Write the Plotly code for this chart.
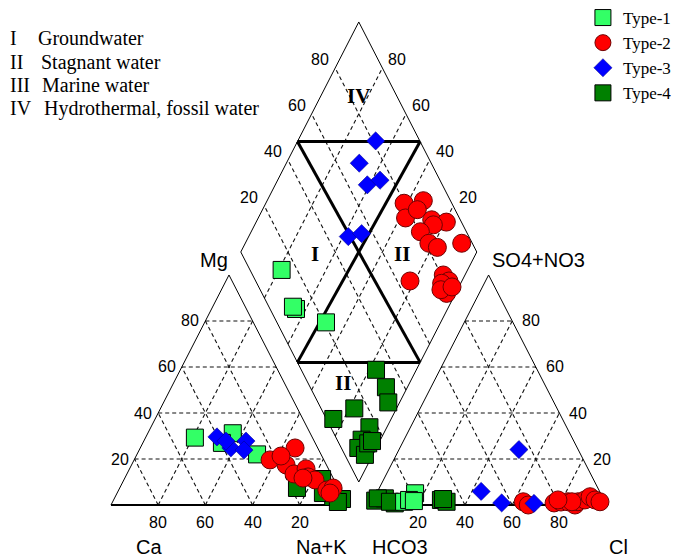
import numpy as np
import plotly.graph_objects as go

# ---------------- data (percent of meq) ----------------
TICKS = [20, 40, 60, 80]
TICK_LABELS = ["20", "40", "60", "80"]
BOUNDARY = 48  # subdivision lines of the diamond (percent)

TYPES = ["Type-1", "Type-2", "Type-3", "Type-4"]

# cation triangle: Na+K %, Mg % (Ca = remainder)
t1_na = [20.9, 36.0, 33.5, 50.9]
t1_mg = [29.3, 31.2, 27.0, 22.0]
t2_na = [57.6, 65.5, 65.6, 61.4, 70.8, 74.8, 77.4, 81.0, 75.5, 88.2, 90.4, 90.2]
t2_mg = [19.6, 17.4, 24.8, 21.3, 13.5, 15.7, 12.2, 10.9, 11.7, 6.5, 7.4, 5.2]
t3_na = [30.1, 38.4, 43.3, 44.4, 34.8]
t3_mg = [29.6, 24.8, 27.8, 23.9, 27.8]
t4_na = [75.1, 83.8, 92.4, 96.6, 87.2, 95.5]
t4_mg = [7.4, 11.3, 3.5, 2.6, 5.2, 1.3]

# anion triangle: Cl %, SO4 % (HCO3 = remainder)
t1_cl = [16.3, 13.5, 15.2, 17.5]
t1_so4 = [5.1, 1.4, 2.2, 1.7]
t2_cl = [64.0, 66.8, 77.3, 80.0, 82.9, 86.6, 87.2, 89.7, 91.2, 94.0, 96.5, 84.6, 78.3]
t2_so4 = [1.4, 0.0, 0.9, 1.3, 1.4, 0.0, 1.4, 2.2, 3.6, 2.2, 1.4, 1.4, 2.2]
t3_cl = [50.8, 43.9, 55.1, 68.9]
t3_so4 = [24.1, 5.9, 0.9, 0.7]
t4_cl = [1.0, 4.6, 9.9, 1.6, 7.5, 28.7, 31.5, 29.4]
t4_so4 = [1.9, 2.9, 0.7, 2.9, 1.4, 2.2, 1.4, 2.6]

# diamond: Ca+Mg %, SO4+Cl %
t1_camg = [78.8, 64.2, 66.0, 48.6]
t1_so4cl = [13.4, 11.0, 10.2, 20.8]
t2_camg = [41.4, 33.8, 37.6, 34.4, 26.1, 19.4, 24.3, 28.3, 22.2, 17.7, 8.3, 22.0, 9.2, 5.5, 8.1, 3.8, 7.0, 2.9]
t2_so4cl = [79.8, 88.5, 77.2, 84.0, 87.9, 93.6, 87.5, 80.5, 81.6, 84.3, 95.5, 65.4, 80.8, 81.9, 78.3, 78.2, 76.6, 81.9]
t3_camg = [67.0, 69.1, 61.0, 56.6, 57.8, 52.8]
t3_so4cl = [81.3, 69.5, 68.2, 74.6, 48.9, 55.2]
t4_camg = [17.1, 9.1, 4.8, 17.9, 24.5, 7.4, 8.0, 7.6, 3.3, 4.4, 3.3]
t4_so4cl = [31.7, 32.1, 29.8, 14.1, 2.9, 16.4, 10.4, 7.2, 8.5, 12.4, 14.5]

# ---------------- geometry ----------------
SIDE = 100.0
GAP = 10.0
H = SIDE * np.sqrt(3) / 2


def cat_xy(na, mg):
    na = np.asarray(na, float); mg = np.asarray(mg, float)
    return na + mg / 2, mg * H / 100


def an_xy(cl, so4):
    cl = np.asarray(cl, float); so4 = np.asarray(so4, float)
    return SIDE + GAP + cl + so4 / 2, so4 * H / 100


def dia_xy(camg, so4cl):
    n = 1 - np.asarray(camg, float) / 100
    h = 1 - np.asarray(so4cl, float) / 100
    return SIDE + GAP / 2 + (n - h) * SIDE / 2, GAP * H / SIDE + (2 - n - h) * H


def seg_trace(segs, width, dash=None, color="black"):
    xs, ys = [], []
    for (x0, y0), (x1, y1) in segs:
        xs += [float(x0), float(x1), None]
        ys += [float(y0), float(y1), None]
    return go.Scatter(x=xs, y=ys, mode="lines", hoverinfo="skip", showlegend=False,
                      line=dict(color=color, width=width, dash=dash))


def pt(f, a, b):
    x, y = f(a, b)
    return (float(x), float(y))


fig = go.Figure()

# grid (dashed)
grid = []
for k in TICKS:
    grid += [(pt(cat_xy, 0, k), pt(cat_xy, 100 - k, k)),
             (pt(cat_xy, k, 0), pt(cat_xy, k, 100 - k)),
             (pt(cat_xy, 100 - k, 0), pt(cat_xy, 0, 100 - k)),
             (pt(an_xy, 0, k), pt(an_xy, 100 - k, k)),
             (pt(an_xy, k, 0), pt(an_xy, k, 100 - k)),
             (pt(an_xy, 100 - k, 0), pt(an_xy, 0, 100 - k)),
             (pt(dia_xy, k, 0), pt(dia_xy, k, 100)),
             (pt(dia_xy, 0, k), pt(dia_xy, 100, k))]
fig.add_trace(seg_trace(grid, 1.1, dash="4px,3px", color="#111111"))

# outlines
outl = [(pt(cat_xy, 0, 0), pt(cat_xy, 0, 100)), (pt(cat_xy, 0, 100), pt(cat_xy, 100, 0)),
        (pt(an_xy, 0, 0), pt(an_xy, 0, 100)), (pt(an_xy, 0, 100), pt(an_xy, 100, 0)),
        (pt(dia_xy, 0, 0), pt(dia_xy, 100, 0)), (pt(dia_xy, 100, 0), pt(dia_xy, 100, 100)),
        (pt(dia_xy, 100, 100), pt(dia_xy, 0, 100)), (pt(dia_xy, 0, 100), pt(dia_xy, 0, 0))]
fig.add_trace(seg_trace(outl, 1))
bases = [(pt(cat_xy, 0, 0), pt(cat_xy, 100, 0)), (pt(an_xy, 0, 0), pt(an_xy, 100, 0))]
fig.add_trace(seg_trace(bases, 2))

# region boundaries
B = BOUNDARY
tl, tr = pt(dia_xy, 100, B), pt(dia_xy, B, 100)
br, bl = pt(dia_xy, 0, 100 - B), pt(dia_xy, 100 - B, 0)
fig.add_trace(seg_trace([(tl, tr), (bl, br), (tl, br), (tr, bl)], 3))

# ---------------- samples ----------------
series = {
    "Type-1": (t1_na, t1_mg, t1_cl, t1_so4, t1_camg, t1_so4cl),
    "Type-2": (t2_na, t2_mg, t2_cl, t2_so4, t2_camg, t2_so4cl),
    "Type-3": (t3_na, t3_mg, t3_cl, t3_so4, t3_camg, t3_so4cl),
    "Type-4": (t4_na, t4_mg, t4_cl, t4_so4, t4_camg, t4_so4cl),
}
styles = {
    "Type-1": dict(symbol="square", size=17, color="#33FF66", line=dict(color="black", width=1)),
    "Type-2": dict(symbol="circle", size=18, color="#FF0000", line=dict(color="#700000", width=1)),
    "Type-3": dict(symbol="diamond", size=14, color="#0000FF", line=dict(color="#000080", width=0.5)),
    "Type-4": dict(symbol="square", size=17, color="#008000", line=dict(color="black", width=1)),
}
for name in ["Type-4", "Type-1", "Type-2", "Type-3"]:
    na, mg, cl, so4, camg, so4cl = series[name]
    x1, y1 = cat_xy(na, mg)
    x2, y2 = an_xy(cl, so4)
    x3, y3 = dia_xy(camg, so4cl)
    fig.add_trace(go.Scatter(
        x=np.concatenate([x1, x2, x3]), y=np.concatenate([y1, y2, y3]),
        mode="markers", name=name, legendrank=TYPES.index(name) + 1,
        marker=styles[name], hoverinfo="skip"))

# ---------------- text ----------------
ann = []
SANS = dict(family="Liberation Sans, Arial", size=16, color="black")
for k, lab in zip(TICKS, TICK_LABELS):
    # Ca axis on the left base: value k lies (100-k) from the Ca corner
    x, y = pt(cat_xy, 100 - k, 0)
    ann.append(dict(x=x, y=y, text=lab, showarrow=False, yshift=-17, font=SANS))
    x, y = pt(cat_xy, 0, k)
    ann.append(dict(x=x, y=y, text=lab, showarrow=False, xshift=-15, font=SANS))
    x, y = pt(an_xy, k, 0)
    ann.append(dict(x=x, y=y, text=lab, showarrow=False, yshift=-17, font=SANS))
    x, y = pt(an_xy, 100 - k, k)
    ann.append(dict(x=x, y=y, text=lab, showarrow=False, xshift=19, font=SANS))
    x, y = pt(dia_xy, 100, k)
    ann.append(dict(x=x, y=y, text=lab, showarrow=False, xshift=-15, yshift=8, font=SANS))
    x, y = pt(dia_xy, k, 100)
    ann.append(dict(x=x, y=y, text=lab, showarrow=False, xshift=15, yshift=8, font=SANS))

W, HH = 681, 558
BIG = dict(family="Liberation Sans, Arial", size=20, color="black")
for txt, px, py in [("Ca", 149, 547), ("Na+K", 321, 547), ("HCO3", 400, 547), ("Cl", 618, 547),
                    ("Mg", 214, 260), ("SO4+NO3", 538, 260)]:
    ann.append(dict(x=px / W, y=1 - py / HH, xref="paper", yref="paper", text=txt,
                    showarrow=False, font=BIG, xanchor="center", yanchor="middle"))

SERIF = dict(family="Liberation Serif, Times New Roman", size=20, color="black")
for num, desc, py, dx in [("I", "Groundwater", 38, 36), ("II", "Stagnant water", 62, 39),
                          ("III", "Marine water", 85, 40), ("IV", "Hydrothermal, fossil water", 108, 42)]:
    ann.append(dict(x=8 / W, y=1 - py / HH, xref="paper", yref="paper", text=num, showarrow=False,
                    font=SERIF, xanchor="left", yanchor="middle"))
    ann.append(dict(x=dx / W, y=1 - py / HH, xref="paper", yref="paper", text=desc, showarrow=False,
                    font=SERIF, xanchor="left", yanchor="middle"))

ROM = dict(family="Liberation Serif, Times New Roman", size=21, color="black")
for txt, a, b in [("IV", 84, 84), ("I", 68, 31), ("II", 31, 68), ("II", 28, 15)]:
    x, y = pt(dia_xy, a, b)
    ann.append(dict(x=x, y=y, text="<b>%s</b>" % txt, showarrow=False, font=ROM))

fig.update_layout(
    width=W, height=HH, margin=dict(l=0, r=0, t=0, b=0),
    paper_bgcolor="white", plot_bgcolor="white",
    xaxis=dict(range=[-47.03, 241.53], visible=False, fixedrange=True),
    yaxis=dict(range=[-19.955, 190.14], visible=False, fixedrange=True),
    annotations=ann,
    legend=dict(x=0.856, y=1.0, xanchor="left", yanchor="top", bgcolor="rgba(0,0,0,0)",
                font=dict(family="Liberation Serif, Times New Roman", size=17, color="black"),
                tracegroupgap=0, itemsizing="trace"),
)

fig.write_html("out.html")
